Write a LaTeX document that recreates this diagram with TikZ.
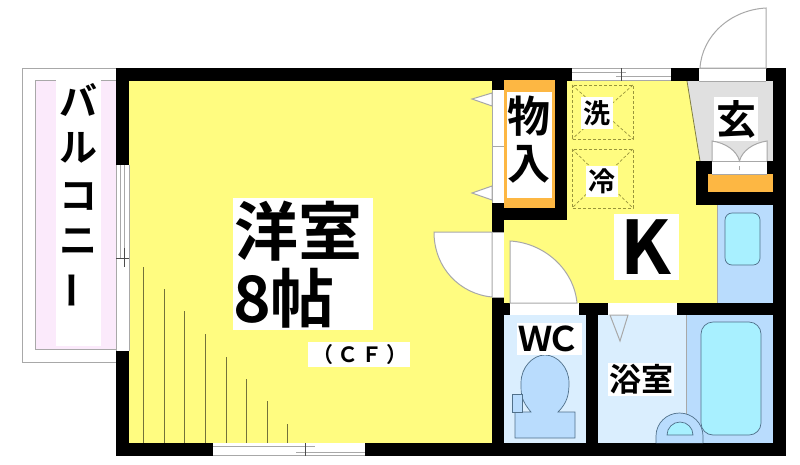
\documentclass[tikz,border=0pt]{standalone}
\usepackage{fontspec}
\setmainfont{Noto Sans CJK JP}[BoldFont={Noto Sans CJK JP Bold}]
\definecolor{roomY}{HTML}{FFFC80}
\definecolor{lineG}{HTML}{A8A8A8}
\definecolor{pinkB}{HTML}{FBEAFB}
\definecolor{orangeB}{HTML}{FDB743}
\definecolor{greyE}{HTML}{E0E0E0}
\definecolor{blueD}{HTML}{B9DCFD}
\definecolor{blueL}{HTML}{DAEEFE}
\definecolor{cyanW}{HTML}{A8F0FF}
\definecolor{fixt}{HTML}{50708A}
\definecolor{dashC}{HTML}{98943C}
\tikzset{
  x=1pt,y=-1pt,
  wall/.style={fill=black,draw=none},
  thin gray/.style={draw=lineG,line width=1pt},
  doorleaf/.style={fill=white,draw=lineG,line width=1pt},
  fixture/.style={draw=fixt,line width=.7pt},
  lbl/.style={fill=white,inner sep=0pt,font=\bfseries,text=black,align=center},
  bare/.style={inner sep=0pt,font=\bfseries,text=black},
  stor/.style={draw=dashC,densely dashed,line width=.7pt},
  hatchline/.style={draw=black!55!roomY,line width=.8pt},
  tick/.style={draw=black!70,line width=.6pt},
}
\newcommand{\tx}[2]{\fontsize{#1}{#1}\selectfont #2}
\begin{document}
\begin{tikzpicture}
\useasboundingbox (0,0) rectangle (800,464);
\fill[white] (0,0) rectangle (800,464);
% balcony
\draw[thin gray] (116,68) -- (22,68) -- (22,362) -- (116,362);
\fill[pinkB] (35,80) rectangle (116,349);
\draw[thin gray] (116,80) -- (35,80) -- (35,349) -- (116,349);
\fill[white] (56,80) rectangle (101,346);
% floors
\fill[roomY] (129,81) rectangle (492,443);
\fill[roomY] (504,220) rectangle (717,303);
\fill[roomY] (567,81) rectangle (717,220);
\fill[greyE] (687,81) -- (773,81) -- (773,161) -- (700,161) -- cycle;
\draw[draw=black!50!roomY,line width=.8pt] (687,81) -- (700,161);
\fill[blueD] (717,205) rectangle (773,303);
\draw[draw=lineG,line width=.7pt] (717,205) -- (717,303);
\fill[blueL] (504,315) rectangle (586,443);
\fill[blueL] (598,315) rectangle (686,443);
\fill[blueD] (686,315) rectangle (773,443);
\draw[draw=lineG,line width=.7pt] (686,315) -- (686,443);
% hatch
\foreach \hx/\hy in {143/267,164/289,184/311,205/334,226/357,246/379,267/401,287/424}
  \draw[hatchline] (\hx,\hy) -- (\hx,443);
% walls
\fill[wall] (116,68) rectangle (572,81);
\fill[wall] (671,68) rectangle (699,81);
\fill[wall] (766,68) rectangle (786,81);
\fill[wall] (773,68) rectangle (786,456);
\fill[wall] (116,68) rectangle (129,165);
\fill[wall] (116,351) rectangle (129,456);
\fill[wall] (116,443) rectangle (213,456);
\fill[wall] (365,443) rectangle (786,456);
\fill[wall] (492,68) rectangle (504,90);
\fill[wall] (492,203) rectangle (504,232);
\fill[wall] (492,297) rectangle (504,456);
\fill[wall] (492,208) rectangle (567,220);
\fill[wall] (555,68) rectangle (567,220);
\fill[wall] (492,303) rectangle (510,315);
\fill[wall] (579,303) rectangle (608,315);
\fill[wall] (677,303) rectangle (786,315);
\fill[wall] (586,303) rectangle (598,456);
\fill[wall] (696,161) rectangle (786,205);
% openings
\fill[white] (492,90) rectangle (504,203);
\draw[thin gray] (492,90) -- (492,203) (504,90) -- (504,203) (492,146) -- (504,146);
\fill[white] (492,232) rectangle (504,297);
\draw[thin gray] (492,232) -- (504,232) (492,297) -- (504,297);
\fill[white] (510,303) rectangle (579,315);
\fill[white] (608,303) rectangle (677,315);
\fill[white] (699,68) rectangle (766,81);
\draw[thin gray] (699,68) -- (766,68) (699,81) -- (766,81);
% top window
\fill[white] (572,68) rectangle (671,81);
\draw[thin gray] (572,68) -- (671,68) (572,80.5) -- (671,80.5);
\draw[thin gray] (572,72) -- (626,72) (616,76) -- (671,76);
\draw[tick] (621,68) -- (621,81);
% left window
\fill[white] (116,165) rectangle (129,351);
\draw[thin gray] (116.5,165) -- (116.5,351) (129,165) -- (129,351);
\draw[thin gray] (120,165) -- (120,258) (124,165) -- (124,267);
\draw[tick] (124,248) -- (124,267) (116,258) -- (129,258);
% bottom window
\fill[white] (213,443) rectangle (365,456);
\draw[thin gray] (213,455.5) -- (365,455.5);
\draw[thin gray] (213,446) -- (315,446) (296,452) -- (365,452);
\draw[tick] (305.5,443) -- (305.5,456);
% closet
\fill[orangeB] (504,80) rectangle (555,208);
\fill[white] (507,92) rectangle (552,198);
% closet door triangles
\filldraw[doorleaf] (492,93) -- (472,99) -- (492,106) -- cycle;
\filldraw[doorleaf] (492,186) -- (472,193) -- (492,200) -- cycle;
% doors
\filldraw[doorleaf] (492,232) -- (434,232) .. controls (434,268) and (460,294) .. (492,297) -- cycle;
\filldraw[doorleaf] (510,303) -- (510,241) .. controls (545,243) and (574,270) .. (577,303) -- cycle;
\filldraw[doorleaf] (766,68) -- (766,8) .. controls (730,10) and (702,36) .. (700,68) -- cycle;
\filldraw[thin gray,fill=blueL] (610,315) -- (628,315) -- (620,341) -- cycle;
% storage
\foreach \ya/\yb in {85/139,149/208}{
  \draw[stor] (572,\ya) rectangle (633,\yb);
  \draw[stor] (572,\ya) -- (633,\yb) (633,\ya) -- (572,\yb);
}
% genkan shoe box
\fill[orangeB] (708,174) rectangle (773,192);
\fill[white] (712,161) rectangle (767,174);
\draw[thin gray] (712,161) -- (767,161) (712,174) -- (767,174);
\draw[draw=lineG,line width=.6pt] (739.5,166) -- (739.5,170);
\fill[white] (712,141) rectangle (767,161);
\fill[greyE] (712,141) .. controls (726,143) and (737,151) .. (739.5,161) .. controls (742,151) and (753,143) .. (767,141) -- cycle;
\draw[thin gray] (712,161) -- (712,141) .. controls (726,143) and (737,151) .. (739.5,161) .. controls (742,151) and (753,143) .. (767,141) -- (767,161);
% fixtures
\draw[fill=cyanW,fixture,rounded corners=7pt] (725,213) rectangle (760,265);
\draw[fill=cyanW,fixture,rounded corners=12pt] (701,322) rectangle (761,435);
\draw[fill=blueD,fixture] (656,443) -- (656,436) arc[start angle=180,end angle=360,x radius=23.5,y radius=23] -- (703,443);
\draw[fill=cyanW,fixture] (667,435) arc[start angle=180,end angle=360,x radius=13,y radius=13] -- cycle;
\draw[fill=blueD,fixture] (515,412) -- (531,412) .. controls (521,400) and (521,395) .. (521,383) .. controls (521,367) and (533,355) .. (545,355) .. controls (557,355) and (569,367) .. (569,383) .. controls (569,395) and (567,403) .. (558,412) -- (575,412) -- (575,438) -- (515,438) -- cycle;
\draw[fill=blueD,fixture] (512,394) rectangle (522,412);
% labels
\fill[white] (233,198) rectangle (373,330);
\node[bare] (yo) at (298,231) {\tx{64}{洋室}};
\node[bare] (hachi) at (284,298) {\tx{64}{8帖}};
\fill[white] (308,342) rectangle (410,367);
\node[bare] (cf) at (360,354.5) {\tx{21}{（\hspace{3.5pt}Ｃ\hspace{3.5pt}Ｆ\hspace{3.5pt}）}};
\node[bare] (mono1) at (529,116) {\tx{43}{物}};
\node[bare] (mono2) at (529,164) {\tx{43}{入}};
\node[lbl,minimum width=32pt,minimum height=32pt] (sen) at (597,113) {\tx{27}{洗}};
\node[lbl,minimum width=32pt,minimum height=31pt] (rei) at (602,181) {\tx{27}{冷}};
\node[lbl,minimum width=65pt,minimum height=66pt] (k) at (646,247) {\tx{74}{K}};
\node[lbl,minimum width=44pt,minimum height=44pt] (gen) at (736,119) {\tx{40}{玄}};
\node[lbl,minimum width=65pt,minimum height=32pt] (wc) at (549,339) {\tx{34}{Ｗ\hspace{-6pt}Ｃ}};
\node[lbl,minimum width=66pt,minimum height=33pt] (yoku) at (641,379) {\tx{32}{浴室}};
\node[bare] (b1) at (78,100) {\tx{38}{バ}};
\node[bare] (b2) at (78,148) {\tx{38}{ル}};
\node[bare] (b3) at (78,196) {\tx{38}{コ}};
\node[bare] (b4) at (78,242) {\tx{38}{ニ}};
\node[bare,rotate=90] (b5) at (78,290) {\tx{38}{ー}};
\end{tikzpicture}
\end{document}
